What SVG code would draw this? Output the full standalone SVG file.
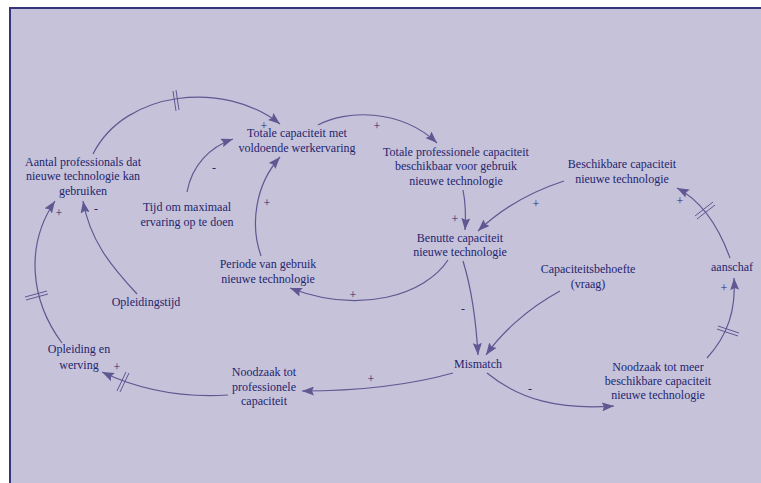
<svg xmlns="http://www.w3.org/2000/svg" width="761" height="483" viewBox="0 0 761 483">
  <style>
    .frame { fill: #c6c2d9; stroke: #35357c; stroke-width: 2; }
    text { font-family: "Liberation Serif", "Times New Roman", Times, serif; fill: #25256e; text-anchor: middle; }
    .lbl { font-size: 12px; }
    .sign { font-size: 12px; }
    .link { fill: none; stroke: #5f5892; stroke-width: 1.2; marker-end: url(#head); }
    .delay line { stroke: #5f5892; stroke-width: 1; }
  </style>
  <defs>
    <marker id="head" markerUnits="userSpaceOnUse" markerWidth="13" markerHeight="9" refX="12" refY="4.5" orient="auto">
      <path d="M0,0 L12,4.5 L0,9 L2,4.5 z" fill="#5f5892"/>
    </marker>
  </defs>

  <rect width="761" height="483" fill="#ffffff"/>
  <rect class="frame" x="10" y="8" width="760" height="485"/>

  <!-- connectors -->
  <g id="connectors">
    <path class="link" d="M93,154 C125,90 225,80 280,124"/>
    <path class="link" d="M187,192 C192,165 210,147 233,139"/>
    <path class="link" d="M261,256 C250,225 255,185 280,157"/>
    <path class="link" d="M318,125 C345,110 400,108 437,143"/>
    <path class="link" d="M463,190 C466,205 466,215 465,230"/>
    <path class="link" d="M564,181 C530,192 500,210 478,231"/>
    <path class="link" d="M448,260 C425,295 360,315 290,288"/>
    <path class="link" d="M463,261 C472,290 476,320 478,355"/>
    <path class="link" d="M560,291 C525,310 500,335 486,355"/>
    <path class="link" d="M453,373 C410,385 360,391 302,391"/>
    <path class="link" d="M228,395 C180,398 140,390 102,372"/>
    <path class="link" d="M62,343 C30,300 25,245 55,201"/>
    <path class="link" d="M137,294 C110,265 90,240 83,201"/>
    <path class="link" d="M487,373 C520,400 560,410 614,406"/>
    <path class="link" d="M707,358 C728,335 736,310 734,278"/>
    <path class="link" d="M730,258 C718,225 700,200 677,188"/>

    <!-- delay marks -->
    <g class="delay">
      <line x1="173" y1="91" x2="176" y2="111"/>
      <line x1="176" y1="90" x2="179" y2="110"/>
    </g>
    <g class="delay">
      <line x1="25" y1="297" x2="47" y2="291"/>
      <line x1="26" y1="300" x2="48" y2="294"/>
    </g>
    <g class="delay">
      <line x1="117" y1="391" x2="126" y2="372"/>
      <line x1="120" y1="392" x2="129" y2="373"/>
    </g>
    <g class="delay">
      <line x1="718" y1="326" x2="739" y2="333"/>
      <line x1="717" y1="329" x2="738" y2="336"/>
    </g>
    <g class="delay">
      <line x1="695" y1="216" x2="713" y2="202"/>
      <line x1="697" y1="219" x2="715" y2="205"/>
    </g>

    <!-- polarity signs -->
    <text class="sign" x="264" y="130">+</text>
    <text class="sign" x="214" y="172">-</text>
    <text class="sign" x="267" y="207">+</text>
    <text class="sign" x="377" y="130">+</text>
    <text class="sign" x="455" y="223">+</text>
    <text class="sign" x="536" y="208">+</text>
    <text class="sign" x="353" y="299">+</text>
    <text class="sign" x="463" y="313">-</text>
    <text class="sign" x="371" y="383">+</text>
    <text class="sign" x="117" y="371">+</text>
    <text class="sign" x="59" y="217">+</text>
    <text class="sign" x="96" y="213">-</text>
    <text class="sign" x="530" y="393">-</text>
    <text class="sign" x="724" y="292">+</text>
    <text class="sign" x="680" y="205">+</text>
  </g>

  <!-- variables -->
  <g id="totale-capaciteit">
    <text class="lbl" x="297" y="137">Totale capaciteit met</text>
    <text class="lbl" x="297" y="152">voldoende werkervaring</text>
  </g>
  <g id="aantal-professionals">
    <text class="lbl" x="83" y="166">Aantal professionals dat</text>
    <text class="lbl" x="83" y="180">nieuwe technologie kan</text>
    <text class="lbl" x="83" y="195">gebruiken</text>
  </g>
  <g id="tijd-ervaring">
    <text class="lbl" x="187" y="211">Tijd om maximaal</text>
    <text class="lbl" x="187" y="226">ervaring op te doen</text>
  </g>
  <g id="totale-professionele">
    <text class="lbl" x="456" y="156">Totale professionele capaciteit</text>
    <text class="lbl" x="456" y="170">beschikbaar voor gebruik</text>
    <text class="lbl" x="456" y="185">nieuwe technologie</text>
  </g>
  <g id="beschikbare-capaciteit">
    <text class="lbl" x="622" y="168">Beschikbare capaciteit</text>
    <text class="lbl" x="622" y="183">nieuwe technologie</text>
  </g>
  <g id="benutte-capaciteit">
    <text class="lbl" x="460" y="242">Benutte capaciteit</text>
    <text class="lbl" x="460" y="256">nieuwe technologie</text>
  </g>
  <g id="periode-gebruik">
    <text class="lbl" x="268" y="268">Periode van gebruik</text>
    <text class="lbl" x="268" y="283">nieuwe technologie</text>
  </g>
  <g id="opleidingstijd">
    <text class="lbl" x="146" y="306">Opleidingstijd</text>
  </g>
  <g id="capaciteitsbehoefte">
    <text class="lbl" x="588" y="273">Capaciteitsbehoefte</text>
    <text class="lbl" x="588" y="288">(vraag)</text>
  </g>
  <g id="aanschaf">
    <text class="lbl" x="732" y="271">aanschaf</text>
  </g>
  <g id="opleiding-werving">
    <text class="lbl" x="79" y="353">Opleiding en</text>
    <text class="lbl" x="79" y="369">werving</text>
  </g>
  <g id="noodzaak-professionele">
    <text class="lbl" x="264" y="376">Noodzaak tot</text>
    <text class="lbl" x="264" y="391">professionele</text>
    <text class="lbl" x="264" y="405">capaciteit</text>
  </g>
  <g id="mismatch">
    <text class="lbl" x="478" y="368">Mismatch</text>
  </g>
  <g id="noodzaak-meer">
    <text class="lbl" x="658" y="371">Noodzaak tot meer</text>
    <text class="lbl" x="658" y="385">beschikbare capaciteit</text>
    <text class="lbl" x="658" y="399">nieuwe technologie</text>
  </g>
</svg>
